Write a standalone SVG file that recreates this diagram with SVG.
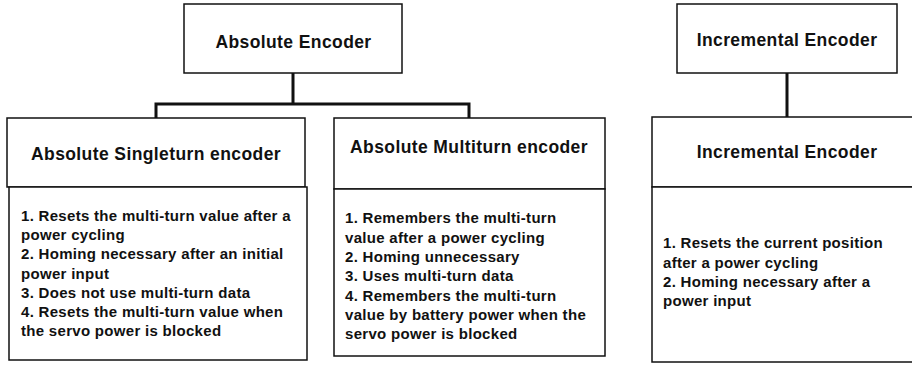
<svg xmlns="http://www.w3.org/2000/svg" width="912" height="365" viewBox="0 0 912 365">
<style>
.box{fill:#fff;stroke:#111;stroke-width:1.5}
.h{font-family:"Liberation Sans",Arial,sans-serif;font-weight:bold;font-size:17.5px;letter-spacing:0.4px;fill:#111;text-anchor:middle}
.t{font-family:"Liberation Sans",Arial,sans-serif;font-weight:bold;font-size:15px;letter-spacing:0.3px;fill:#111}
.c{fill:none;stroke:#111;stroke-width:3}
</style>
<rect width="912" height="365" fill="#fff"/>
<g id="connectors">
<path class="c" d="M293 73V104M156 104H469M156 102.5V118M469 102.5V118M787 73V117"/>
</g>
<g id="absolute-encoder">
<rect class="box" x="184" y="4" width="218" height="69"/>
<text class="h" x="293.5" y="47.5">Absolute Encoder</text>
</g>
<g id="incremental-encoder-top">
<rect class="box" x="677" y="4" width="220" height="69"/>
<text class="h" x="787" y="45.5">Incremental Encoder</text>
</g>
<g id="absolute-singleturn">
<rect class="box" x="7" y="118" width="298" height="69"/>
<rect class="box" x="9" y="187" width="298" height="173"/>
<text class="h" x="156" y="159.5">Absolute Singleturn encoder</text>
<text class="t" x="21" y="221">
<tspan x="21" y="221">1. Resets the multi-turn value after a</tspan>
<tspan x="21" y="240.2">power cycling</tspan>
<tspan x="21" y="259.4">2. Homing necessary after an initial</tspan>
<tspan x="21" y="278.6">power input</tspan>
<tspan x="21" y="297.8">3. Does not use multi-turn data</tspan>
<tspan x="21" y="317">4. Resets the multi-turn value when</tspan>
<tspan x="21" y="336.2">the servo power is blocked</tspan>
</text>
</g>
<g id="absolute-multiturn">
<rect class="box" x="334" y="118" width="271" height="71"/>
<rect class="box" x="334" y="189" width="271" height="167"/>
<text class="h" x="469" y="153">Absolute Multiturn encoder</text>
<text class="t" x="345" y="223.3">
<tspan x="345" y="223.3">1. Remembers the multi-turn</tspan>
<tspan x="345" y="242.6">value after a power cycling</tspan>
<tspan x="345" y="261.9">2. Homing unnecessary</tspan>
<tspan x="345" y="281.2">3. Uses multi-turn data</tspan>
<tspan x="345" y="300.5">4. Remembers the multi-turn</tspan>
<tspan x="345" y="319.8">value by battery power when the</tspan>
<tspan x="345" y="339.1">servo power is blocked</tspan>
</text>
</g>
<g id="incremental-encoder">
<rect class="box" x="652" y="117" width="264" height="70"/>
<rect class="box" x="652" y="187" width="264" height="175"/>
<text class="h" x="787" y="158.3">Incremental Encoder</text>
<text class="t" x="663" y="248.3">
<tspan x="663" y="248.3">1. Resets the current position</tspan>
<tspan x="663" y="267.6">after a power cycling</tspan>
<tspan x="663" y="286.9">2. Homing necessary after a</tspan>
<tspan x="663" y="306.2">power input</tspan>
</text>
</g>
</svg>
